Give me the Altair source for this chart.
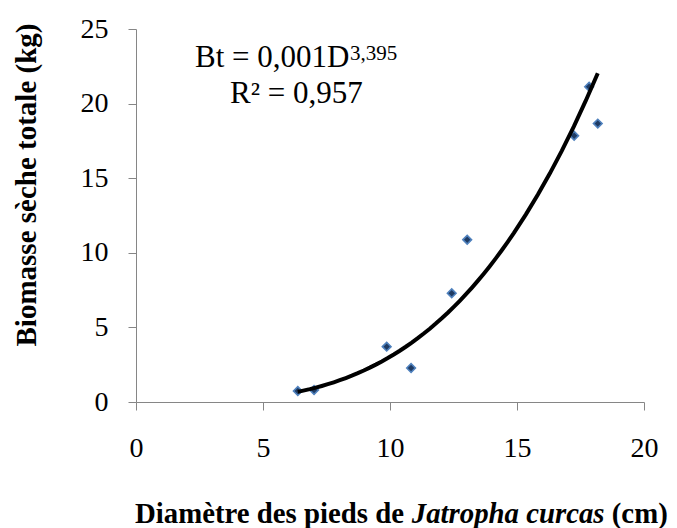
import altair as alt
import pandas as pd

# Data
diametre = [6.37, 7.01, 9.87, 10.83, 12.43, 13.04, 17.25, 17.84, 18.18]
biomasse = [0.74, 0.80, 3.71, 2.28, 7.29, 10.88, 17.85, 21.13, 18.66]

x_ticks = [0, 5, 10, 15, 20]
y_ticks = [0, 5, 10, 15, 20, 25]

y_title = "Biomasse sèche totale (kg)"
x_title_parts = ["Diamètre des pieds de", "Jatropha curcas", "(cm)"]
eq_line1 = "Bt = 0,001D"
eq_sup = "3,395"
eq_line2 = "R² = 0,957"

FONT = "Liberation Serif"
AXIS_GREY = "#868686"

df = pd.DataFrame({"D": diametre, "B": biomasse})

x_enc = alt.X(
    "D:Q",
    scale=alt.Scale(domain=[0, 20], nice=False, zero=True),
    axis=alt.Axis(
        values=x_ticks, title=None, grid=False,
        domainColor=AXIS_GREY, tickColor=AXIS_GREY, tickSize=8,
        labelFont=FONT, labelFontSize=28, labelColor="black",
        labelPadding=24, labelFlush=False, labelOverlap=False,
    ),
)
y_enc = alt.Y(
    "B:Q",
    scale=alt.Scale(domain=[0, 25], nice=False, zero=True),
    axis=alt.Axis(
        values=y_ticks, title=y_title, grid=False,
        domainColor=AXIS_GREY, tickColor=AXIS_GREY, tickSize=8,
        labelFont=FONT, labelFontSize=28, labelColor="black",
        labelPadding=20, labelFlush=False, labelOverlap=False,
        titleFont=FONT, titleFontSize=29, titleFontWeight="bold",
        titleColor="black", titleAngle=270, titleX=-101, titleY=155.5,
        titleAlign="center", titleBaseline="alphabetic",
    ),
)

base = alt.Chart(df)

points = base.mark_point(
    shape="diamond", filled=True, size=75, fill="#1F3B63",
    stroke="#4F81BD", strokeWidth=1.6, opacity=1, fillOpacity=1,
).encode(x=x_enc, y=y_enc)

curve = base.transform_regression("D", "B", method="pow").mark_line(
    color="black", strokeWidth=4
).encode(x="D:Q", y="B:Q")


def label(text, x, y, size, weight="normal", style="normal"):
    return alt.Chart(pd.DataFrame({"t": [text]})).mark_text(
        font=FONT, fontSize=size, fontWeight=weight, fontStyle=style,
        color="black", align="left", baseline="alphabetic",
    ).encode(x=alt.value(x), y=alt.value(y), text="t:N")


TS = 28.8
texts = [
    label(eq_line1, 59, 37.7, 31),
    label(eq_sup, 214, 31, 21),
    label(eq_line2, 94, 74.3, 31),
    label(x_title_parts[0], -1, 494.3, TS, weight="bold"),
    label(x_title_parts[1], -1 + 9.61 * TS, 494.3, TS, weight="bold", style="italic"),
    label(x_title_parts[2], -1 + 16.555 * TS, 494.3, TS, weight="bold"),
]

chart = alt.layer(points, curve, *texts).properties(
    width=508,
    height=373,
    autosize=alt.AutoSizeParams(type="none"),
    padding={"left": 128, "top": 21, "right": 25, "bottom": 126},
).configure_view(stroke=None)

chart.save("out.html", embed_options={"renderer": "svg", "actions": False})
